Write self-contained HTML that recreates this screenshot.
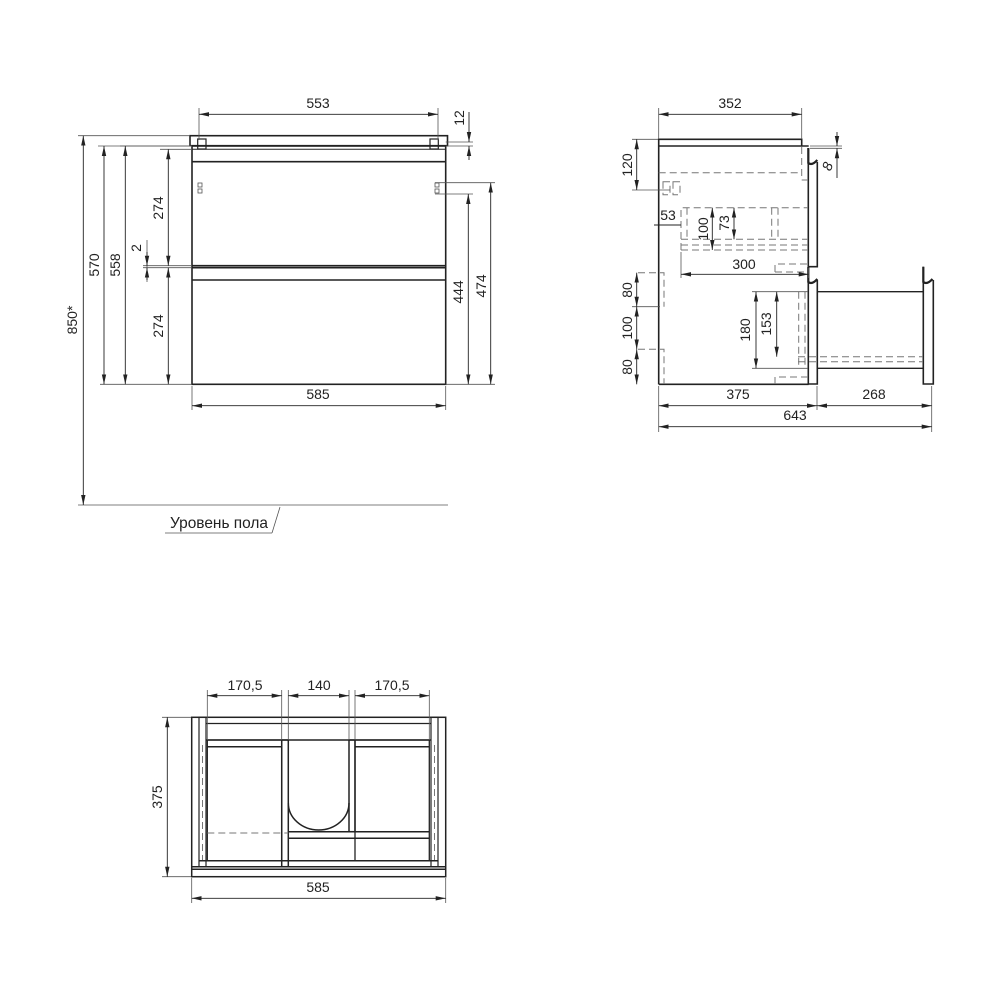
<!DOCTYPE html>
<html><head><meta charset="utf-8"><style>
html,body{margin:0;padding:0;background:#fff}
svg{display:block}
text{font-family:"Liberation Sans Narrow","Liberation Sans","DejaVu Sans Condensed",sans-serif;font-size:14px;fill:#222}
</style></head><body>
<svg width="1000" height="1000" viewBox="0 0 1000 1000" xmlns="http://www.w3.org/2000/svg">
<defs>
<marker id="a" viewBox="0 0 10 6" refX="10" refY="3" markerWidth="10" markerHeight="6" orient="auto-start-reverse" markerUnits="userSpaceOnUse"><path d="M0,0.8 L10,3 L0,5.2z" fill="#222"/></marker>
</defs>
<g fill="none" stroke="#222" stroke-width="1.6">
<rect x="190" y="135.7" width="257.5" height="10"/>
<rect x="197.7" y="139" width="8.3" height="10" stroke-width="1.2"/>
<rect x="430" y="139" width="8.3" height="10" stroke-width="1.2"/>
<rect x="192" y="146" width="253.7" height="238.3"/>
<line x1="192" y1="149.3" x2="445.7" y2="149.3" stroke-width="1"/>
<line x1="192" y1="161.7" x2="445.7" y2="161.7"/>
<line x1="192" y1="265.7" x2="445.7" y2="265.7"/>
<line x1="192" y1="267.7" x2="445.7" y2="267.7"/>
<line x1="192" y1="280" x2="445.7" y2="280"/>
</g>
<g fill="none" stroke="#555" stroke-width="0.8">
<rect x="198" y="183" width="4" height="4"/><rect x="198" y="189" width="4" height="4"/>
<rect x="435" y="183" width="4" height="4"/><rect x="435" y="189" width="4" height="4"/>
<line x1="199" y1="108" x2="199" y2="140"/><line x1="438" y1="108" x2="438" y2="140"/>
<line x1="78" y1="135.7" x2="190" y2="135.7"/>
<line x1="98" y1="146" x2="192" y2="146"/>
<line x1="120" y1="146" x2="192" y2="146"/>
<line x1="160" y1="149.3" x2="192" y2="149.3"/>
<line x1="100" y1="384.3" x2="192" y2="384.3"/>
<line x1="143" y1="265.7" x2="192" y2="265.7"/><line x1="143" y1="267.7" x2="192" y2="267.7"/>
<line x1="147" y1="240" x2="147" y2="282"/>
<line x1="445.7" y1="384.3" x2="495" y2="384.3"/>
<line x1="435" y1="182.7" x2="495" y2="182.7"/>
<line x1="435" y1="194" x2="473" y2="194"/>
<line x1="445.7" y1="142" x2="473" y2="142"/><line x1="445.7" y1="146" x2="473" y2="146"/>
<line x1="192" y1="386" x2="192" y2="410"/><line x1="445.7" y1="386" x2="445.7" y2="410"/>
<line x1="78" y1="505" x2="448" y2="505"/>
<line x1="165" y1="533" x2="272" y2="533"/><line x1="272" y1="533" x2="280" y2="507"/>
</g>
<g stroke="#222" stroke-width="0.9" fill="none">
<line x1="199" y1="114.3" x2="438" y2="114.3" marker-start="url(#a)" marker-end="url(#a)"/>
<line x1="83.3" y1="135.7" x2="83.3" y2="505" marker-start="url(#a)" marker-end="url(#a)"/>
<line x1="104" y1="146" x2="104" y2="384.3" marker-start="url(#a)" marker-end="url(#a)"/>
<line x1="125.3" y1="146" x2="125.3" y2="384.3" marker-start="url(#a)" marker-end="url(#a)"/>
<line x1="168.3" y1="149.3" x2="168.3" y2="265.7" marker-start="url(#a)" marker-end="url(#a)"/>
<line x1="168.3" y1="267.7" x2="168.3" y2="384.3" marker-start="url(#a)" marker-end="url(#a)"/>
<line x1="147" y1="252" x2="147" y2="265.7" marker-end="url(#a)"/>
<line x1="147" y1="280" x2="147" y2="267.7" marker-end="url(#a)"/>
<line x1="469" y1="112" x2="469" y2="142" marker-end="url(#a)"/>
<line x1="469" y1="160" x2="469" y2="146" marker-end="url(#a)"/>
<line x1="468.3" y1="194" x2="468.3" y2="384.3" marker-start="url(#a)" marker-end="url(#a)"/>
<line x1="490.7" y1="182.7" x2="490.7" y2="384.3" marker-start="url(#a)" marker-end="url(#a)"/>
<line x1="192" y1="405.7" x2="445.7" y2="405.7" marker-start="url(#a)" marker-end="url(#a)"/>
</g>
<text x="318" y="108" text-anchor="middle">553</text>
<text x="318" y="399" text-anchor="middle">585</text>
<text transform="translate(464,118) rotate(-90)" text-anchor="middle">12</text>
<text transform="translate(77,320) rotate(-90)" text-anchor="middle">850*</text>
<text transform="translate(99,265) rotate(-90)" text-anchor="middle">570</text>
<text transform="translate(120,265) rotate(-90)" text-anchor="middle">558</text>
<text transform="translate(163,208) rotate(-90)" text-anchor="middle">274</text>
<text transform="translate(163,326) rotate(-90)" text-anchor="middle">274</text>
<text transform="translate(141,248) rotate(-90)" text-anchor="middle">2</text>
<text transform="translate(463,292) rotate(-90)" text-anchor="middle">444</text>
<text transform="translate(486,286) rotate(-90)" text-anchor="middle">474</text>
<text x="170" y="528" style="font-size:16px" textLength="98" lengthAdjust="spacingAndGlyphs">Уровень пола</text>

<g fill="none" stroke="#222" stroke-width="1.6">
<path d="M658.7,384.3 V139.3 H801.7 V146"/>
<line x1="658.7" y1="146" x2="808.7" y2="146"/>
<line x1="658.7" y1="384.3" x2="808.7" y2="384.3"/>
<path d="M808.3,148 V266.7 H817.3 V162"/>
<path d="M808.3,148 V163 Q812,166 817.3,160" stroke-width="2.2"/>
<path d="M808.3,266.7 V384 H817.3 V280"/>
<path d="M808.3,267 V282 Q812,285 817.3,279" stroke-width="2.2"/>
<line x1="817.3" y1="291.7" x2="923.3" y2="291.7" stroke-width="1.3"/>
<line x1="817.3" y1="368.3" x2="923.3" y2="368.3" stroke-width="1.3"/>
<path d="M923.3,266.7 V384 H933.3 V280"/>
<path d="M923.3,266.7 V282 Q927,285 932.5,279" stroke-width="2.2"/>
</g>
<g fill="none" stroke="#777" stroke-width="1" stroke-dasharray="7,4">
<line x1="658.7" y1="172.7" x2="801.7" y2="172.7"/>
<path d="M801.7,147 V180 H808"/>
<rect x="663" y="181.7" width="7" height="13"/><rect x="673" y="181.7" width="7" height="13"/>
<path d="M681,250 V207.7 H808"/>
<line x1="687" y1="207.7" x2="687" y2="239"/>
<line x1="771.7" y1="207.7" x2="771.7" y2="239"/>
<line x1="778" y1="207.7" x2="778" y2="239"/>
<line x1="681" y1="239.3" x2="808" y2="239.3"/>
<line x1="681" y1="245" x2="808" y2="245"/>
<line x1="681" y1="250" x2="808" y2="250"/>
<path d="M775,272 V264 H808"/><line x1="775" y1="272" x2="808" y2="272"/>
<path d="M638,272.7 H664 V306.7"/><path d="M638,349.3 H664 V384"/>
<line x1="798.7" y1="291.7" x2="798.7" y2="368"/>
<line x1="805" y1="291.7" x2="805" y2="368"/>
<line x1="798" y1="356.7" x2="923" y2="356.7"/>
<line x1="798" y1="361.7" x2="923" y2="361.7"/>
<path d="M775,384 V377 H808"/>
</g>
<g fill="none" stroke="#555" stroke-width="0.8">
<line x1="658.7" y1="108" x2="658.7" y2="139"/><line x1="801.7" y1="108" x2="801.7" y2="139"/>
<line x1="632" y1="139.3" x2="658" y2="139.3"/>
<line x1="632" y1="190" x2="670" y2="190"/>
<line x1="632" y1="306.7" x2="660" y2="306.7"/>
<line x1="658.7" y1="386" x2="658.7" y2="432"/>
<line x1="817" y1="386" x2="817" y2="410"/>
<line x1="931.7" y1="386" x2="931.7" y2="432"/>
<line x1="810" y1="146" x2="842" y2="146"/><line x1="810" y1="148.3" x2="842" y2="148.3"/>
<line x1="752" y1="291.7" x2="808" y2="291.7"/>
<line x1="752" y1="368.3" x2="808" y2="368.3"/>
<line x1="681" y1="252" x2="681" y2="278"/>
<line x1="808.7" y1="268" x2="808.7" y2="278"/>
</g>
<g stroke="#222" stroke-width="0.9" fill="none">
<line x1="658.7" y1="114.3" x2="801.7" y2="114.3" marker-start="url(#a)" marker-end="url(#a)"/>
<line x1="636.7" y1="139.3" x2="636.7" y2="190" marker-start="url(#a)" marker-end="url(#a)"/>
<line x1="636.7" y1="272.7" x2="636.7" y2="306.7" marker-start="url(#a)" marker-end="url(#a)"/>
<line x1="636.7" y1="306.7" x2="636.7" y2="349.3" marker-start="url(#a)" marker-end="url(#a)"/>
<line x1="636.7" y1="349.3" x2="636.7" y2="384.3" marker-start="url(#a)" marker-end="url(#a)"/>
<line x1="837" y1="132" x2="837" y2="146" marker-end="url(#a)"/>
<line x1="837" y1="178" x2="837" y2="148.3" marker-end="url(#a)"/>
<line x1="654" y1="225" x2="681" y2="225"/>
<line x1="712.3" y1="207.7" x2="712.3" y2="250" marker-start="url(#a)" marker-end="url(#a)"/>
<line x1="734" y1="207.7" x2="734" y2="239.3" marker-start="url(#a)" marker-end="url(#a)"/>
<line x1="681" y1="274.3" x2="808.7" y2="274.3" marker-start="url(#a)" marker-end="url(#a)"/>
<line x1="756" y1="291.7" x2="756" y2="368.3" marker-start="url(#a)" marker-end="url(#a)"/>
<line x1="776.7" y1="291.7" x2="776.7" y2="356.7" marker-start="url(#a)" marker-end="url(#a)"/>
<line x1="658.7" y1="405.7" x2="817" y2="405.7" marker-start="url(#a)" marker-end="url(#a)"/>
<line x1="817" y1="405.7" x2="931.7" y2="405.7" marker-start="url(#a)" marker-end="url(#a)"/>
<line x1="658.7" y1="426.7" x2="931.7" y2="426.7" marker-start="url(#a)" marker-end="url(#a)"/>
</g>
<text x="730" y="108" text-anchor="middle">352</text>
<text transform="translate(632,165) rotate(-90)" text-anchor="middle">120</text>
<text transform="translate(632,290) rotate(-90)" text-anchor="middle">80</text>
<text transform="translate(632,328) rotate(-90)" text-anchor="middle">100</text>
<text transform="translate(632,367) rotate(-90)" text-anchor="middle">80</text>
<text transform="translate(832,168) rotate(-70)" text-anchor="middle" font-style="italic">8</text>
<text x="668" y="220" text-anchor="middle">53</text>
<text transform="translate(708,229) rotate(-90)" text-anchor="middle">100</text>
<text transform="translate(729,223) rotate(-90)" text-anchor="middle">73</text>
<text x="744" y="269" text-anchor="middle">300</text>
<text transform="translate(750,330) rotate(-90)" text-anchor="middle">180</text>
<text transform="translate(771,324) rotate(-90)" text-anchor="middle">153</text>
<text x="738" y="399" text-anchor="middle">375</text>
<text x="874" y="399" text-anchor="middle">268</text>
<text x="795" y="420" text-anchor="middle">643</text>

<g fill="none" stroke="#222" stroke-width="1.5">
<rect x="191.7" y="717.3" width="254" height="159.4"/>
<line x1="191.7" y1="866.7" x2="445.7" y2="866.7"/>
<line x1="191.7" y1="869.3" x2="445.7" y2="869.3"/>
<rect x="199" y="717.3" width="7" height="149.4" stroke-width="1.2"/>
<rect x="431" y="717.3" width="7" height="149.4" stroke-width="1.2"/>
<line x1="206" y1="723.5" x2="431" y2="723.5" stroke-width="1.2"/>
<line x1="206" y1="740" x2="431" y2="740"/>
<line x1="207.3" y1="746.7" x2="281.7" y2="746.7"/>
<line x1="355" y1="746.7" x2="429.3" y2="746.7"/>
<line x1="199" y1="860.7" x2="438" y2="860.7"/>
<rect x="207.3" y="740" width="74.4" height="120.7" stroke-width="1.3"/>
<rect x="281.7" y="740" width="6.6" height="126.7"/>
<rect x="349" y="740" width="6" height="91.7"/>
<rect x="355" y="740" width="74.3" height="120.7" stroke-width="1.3"/>
<path d="M288.3,803 A30.35,27 0 0 0 349,803"/>
<line x1="288.3" y1="831.7" x2="429.3" y2="831.7"/>
<line x1="288.3" y1="838.3" x2="429.3" y2="838.3"/>
</g>
<g fill="none" stroke="#777" stroke-width="1" stroke-dasharray="7,4">
<line x1="207.3" y1="833" x2="288.3" y2="833"/>
<line x1="202.5" y1="745" x2="202.5" y2="860"/>
<line x1="434.5" y1="745" x2="434.5" y2="860"/>
</g>
<g fill="none" stroke="#555" stroke-width="0.8">
<line x1="207.3" y1="690" x2="207.3" y2="740"/>
<line x1="281.7" y1="690" x2="281.7" y2="740"/>
<line x1="288.3" y1="690" x2="288.3" y2="740"/>
<line x1="349" y1="690" x2="349" y2="740"/>
<line x1="355" y1="690" x2="355" y2="740"/>
<line x1="429.3" y1="690" x2="429.3" y2="740"/>
<line x1="162" y1="717.3" x2="191" y2="717.3"/>
<line x1="162" y1="876.7" x2="191" y2="876.7"/>
<line x1="191.7" y1="878" x2="191.7" y2="903"/>
<line x1="445.7" y1="878" x2="445.7" y2="903"/>
</g>
<g stroke="#222" stroke-width="0.9" fill="none">
<line x1="207.3" y1="695.7" x2="281.7" y2="695.7" marker-start="url(#a)" marker-end="url(#a)"/>
<line x1="288.3" y1="695.7" x2="349" y2="695.7" marker-start="url(#a)" marker-end="url(#a)"/>
<line x1="355" y1="695.7" x2="429.3" y2="695.7" marker-start="url(#a)" marker-end="url(#a)"/>
<line x1="167.3" y1="717.3" x2="167.3" y2="876.7" marker-start="url(#a)" marker-end="url(#a)"/>
<line x1="191.7" y1="898.3" x2="445.7" y2="898.3" marker-start="url(#a)" marker-end="url(#a)"/>
</g>
<text x="245" y="690" text-anchor="middle">170,5</text>
<text x="319" y="690" text-anchor="middle">140</text>
<text x="392" y="690" text-anchor="middle">170,5</text>
<text transform="translate(162,797) rotate(-90)" text-anchor="middle">375</text>
<text x="318" y="892" text-anchor="middle">585</text>
</svg>
</body></html>
